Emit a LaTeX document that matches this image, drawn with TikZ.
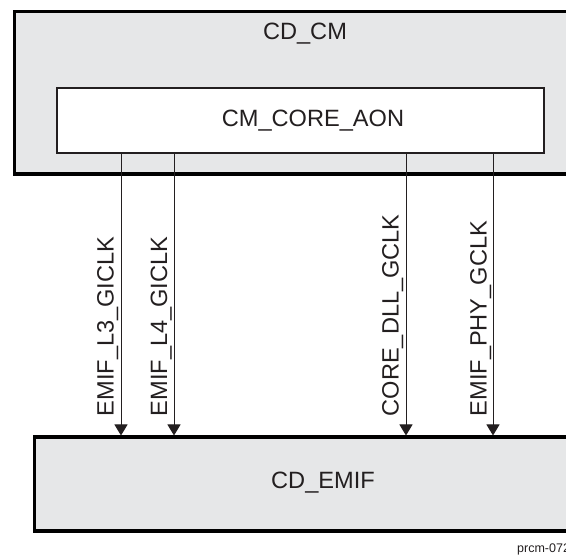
\documentclass[tikz,border=0pt]{standalone}
\usepackage{fontspec}
\setmainfont{Liberation Sans}
\usetikzlibrary{arrows.meta}
\definecolor{boxgray}{HTML}{E6E7E8}
\definecolor{inkdark}{HTML}{231F20}
\tikzset{
  domainbox/.style={draw=black, fill=boxgray, line width=3.4pt, rectangle, inner sep=0pt, anchor=north west},
  corebox/.style={draw=inkdark, fill=white, line width=1.7pt, rectangle, inner sep=0pt, anchor=north west},
  bigtext/.style={font=\fontsize{23.6}{28}\selectfont, text=inkdark, inner sep=0pt, anchor=base},
  clklabel/.style={font=\fontsize{23.6}{28}\selectfont, text=inkdark, inner sep=0pt, rotate=90, anchor=base west},
  clkarrow/.style={draw=inkdark, line width=1pt, -{Triangle[width=13pt,length=11pt]}},
  smalltext/.style={font=\fontsize{12.5}{15}\selectfont, text=inkdark, inner sep=0pt, anchor=base west}
}
\begin{document}
\begin{tikzpicture}[x=1pt,y=-1pt]
\useasboundingbox (0,0) rectangle (566,556);
% boxes
\node[domainbox, minimum width=565pt, minimum height=162.5pt] (cdcm) at (13,10) {};
\node[corebox, minimum width=487pt, minimum height=65.5pt] (cmcore) at (56,87) {};
\node[domainbox, minimum width=545pt, minimum height=94pt] (cdemif) at (32.5,435.5) {};
% box texts
\node[bigtext] (tcdcm) at (305,40) {CD\_CM};
\node[bigtext] (tcore) at (313,127) {CM\_CORE\_AON};
\node[bigtext] (temif) at (323,489) {CD\_EMIF};
% clock arrows
\draw[clkarrow] (cmcore.south -| 121,0) -- (cdemif.north -| 121,0);
\draw[clkarrow] (cmcore.south -| 174,0) -- (cdemif.north -| 174,0);
\draw[clkarrow] (cmcore.south -| 406,0) -- (cdemif.north -| 406,0);
\draw[clkarrow] (cmcore.south -| 493,0) -- (cdemif.north -| 493,0);
% clock labels
\node[clklabel] (l1) at (113.5,416.5) {EMIF\_L3\_GICLK};
\node[clklabel] (l2) at (167,416.5) {EMIF\_L4\_GICLK};
\node[clklabel] (l3) at (398.5,416.5) {CORE\_DLL\_GCLK};
\node[clklabel] (l4) at (486.5,416.5) {EMIF\_PHY\_GCLK};
% figure id
\node[smalltext] (fid) at (517,553) {prcm-072};
\end{tikzpicture}
\end{document}
